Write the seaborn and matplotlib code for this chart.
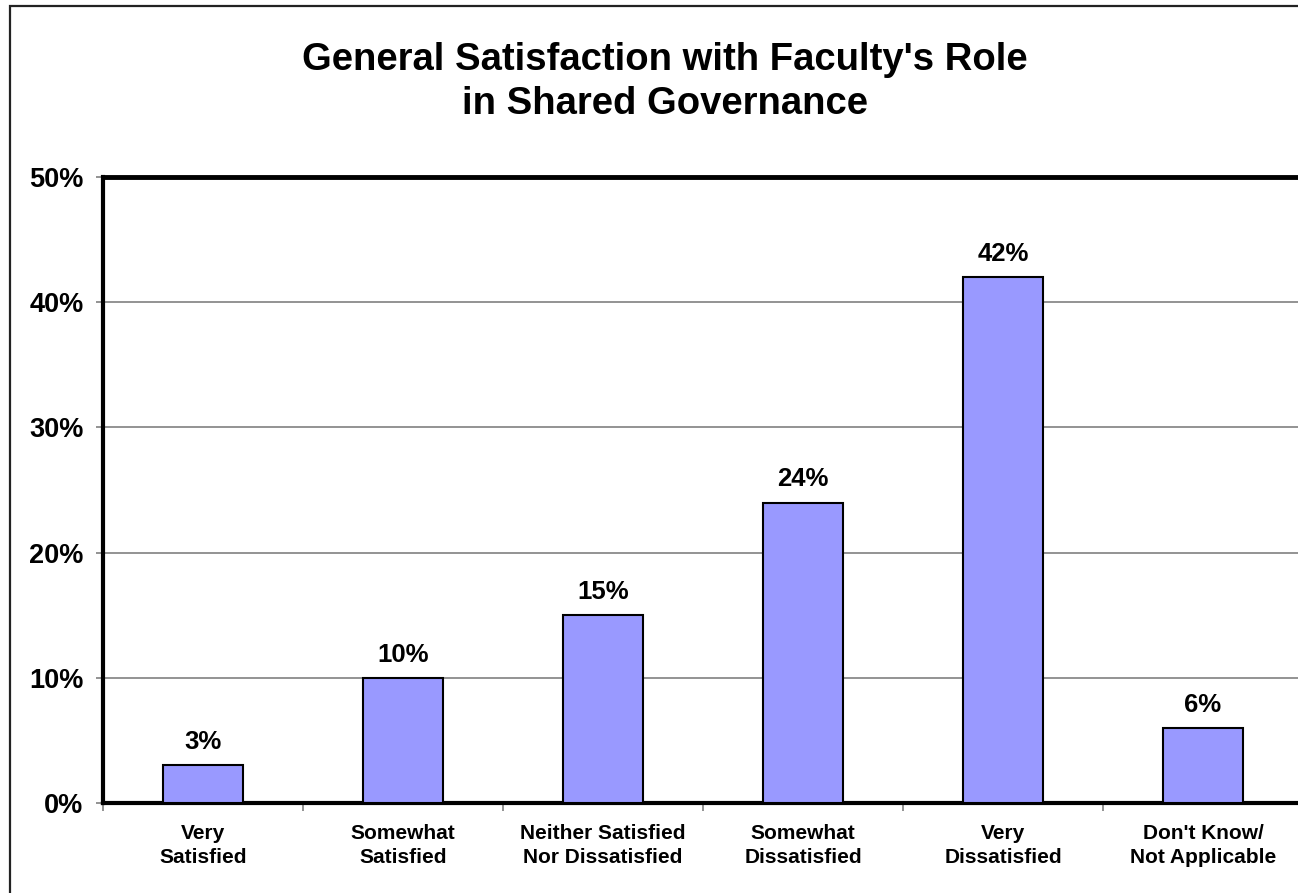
import matplotlib
matplotlib.use("Agg")
import matplotlib.pyplot as plt
import seaborn as sns
import pandas as pd
from matplotlib.patches import Rectangle

categories = ["Very\nSatisfied", "Somewhat\nSatisfied", "Neither Satisfied\nNor Dissatisfied",
              "Somewhat\nDissatisfied", "Very\nDissatisfied", "Don't Know/\nNot Applicable"]
values = [3, 10, 15, 24, 42, 6]
value_labels = ["3%", "10%", "15%", "24%", "42%", "6%"]
y_ticks = [0, 10, 20, 30, 40, 50]
y_tick_labels = ["0%", "10%", "20%", "30%", "40%", "50%"]
title = "General Satisfaction with Faculty's Role\nin Shared Governance"

sns.set_style("white")
plt.rcParams['font.family'] = ['Liberation Sans', 'DejaVu Sans']
plt.rcParams['text.color'] = 'black'
plt.rcParams['xtick.labelcolor'] = 'black'
plt.rcParams['ytick.labelcolor'] = 'black'

W, H = 1298, 893
fig = plt.figure(figsize=(W / 100, H / 100), dpi=100)
ax = fig.add_axes([103 / W, 1 - 803 / H, 1200 / W, (803 - 177) / H])

df = pd.DataFrame({"cat": categories, "val": values})
sns.barplot(data=df, x="cat", y="val", ax=ax, color="#9999FF", saturation=1,
            width=0.4, edgecolor="black", linewidth=1.5, zorder=3)

ax.set_xlim(-0.5, len(categories) - 0.5)
ax.set_ylim(0, 50)
ax.set_yticks(y_ticks)
ax.set_yticklabels(y_tick_labels, fontsize=19.5, fontweight="bold", color="black")
ax.yaxis.grid(True, color="#808080", linewidth=1.2, zorder=0)
ax.set_axisbelow(True)

ax.set_xticks(range(len(categories)))
ax.set_xticklabels(categories, fontsize=15, fontweight="bold", linespacing=1.35, color="black")
ax.tick_params(axis="x", length=0, pad=15)
ax.tick_params(axis="y", length=5, width=1.2, color="#808080", left=True, pad=9)
ax.set_xticks([i - 0.5 for i in range(len(categories) + 1)], minor=True)
ax.tick_params(axis="x", which="minor", length=6, width=1.2, color="#808080", bottom=True)

ax.set_xlabel("")
ax.set_ylabel("")

for s in ["left", "top", "bottom"]:
    ax.spines[s].set_visible(True)
    ax.spines[s].set_color("black")
ax.spines["left"].set_linewidth(3)
ax.spines["bottom"].set_linewidth(3)
ax.spines["top"].set_linewidth(3.5)
ax.spines["right"].set_visible(False)

for p, lab in zip(ax.patches, value_labels):
    ax.annotate(lab, (p.get_x() + p.get_width() / 2, p.get_height()),
                xytext=(0, 8), textcoords="offset points", ha="center", va="bottom",
                fontsize=18.5, fontweight="bold", color="black")

fig.text(665 / W, 1 - 82 / H, title, ha="center", va="center", fontsize=27.5,
         fontweight="bold", linespacing=1.3, color="black")

fig.patches.append(Rectangle((10 / W, -0.1), 1.2, 1 - 6 / H + 0.1, transform=fig.transFigure,
                             fill=False, edgecolor="#222222", linewidth=1.6, zorder=-1))

fig.savefig("out.png", dpi=100)
